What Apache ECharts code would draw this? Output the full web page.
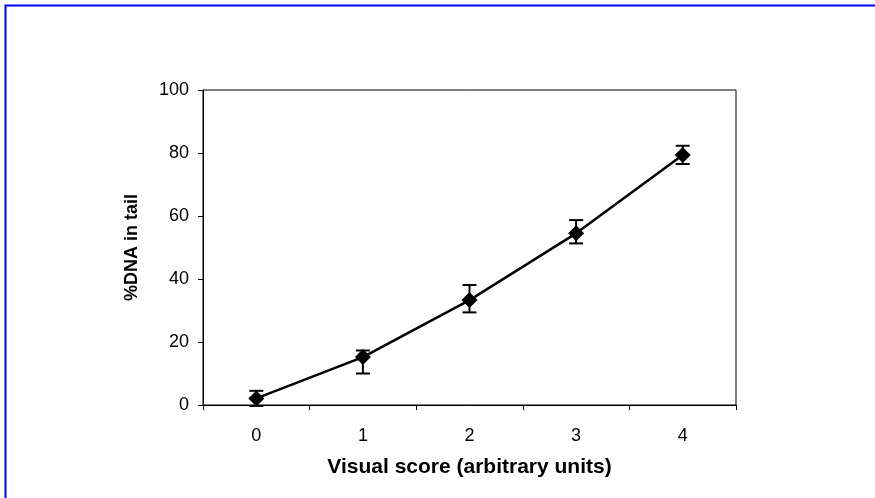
<!DOCTYPE html>
<html>
<head>
<meta charset="utf-8">
<script src="https://cdn.jsdelivr.net/npm/echarts@6/dist/echarts.min.js"></script>
<style>
html,body{margin:0;padding:0;background:#fff;}
#c{width:875px;height:498px;}
</style>
</head>
<body>
<div id="c"></div>
<script>
const categories = ['0', '1', '2', '3', '4'];
const dnaValues = [2.1, 15.2, 33.3, 54.5, 79.4];
const errUpper = [2.4, 2.1, 4.8, 4.2, 2.9];
const errLower = [2.4, 5.2, 3.9, 3.2, 2.9];
const yTicks = [0, 20, 40, 60, 80, 100];

const errData = categories.map((c, i) => [i, dnaValues[i] + errUpper[i], dnaValues[i] - errLower[i]]);

const chart = echarts.init(document.getElementById('c'), null, {renderer: 'canvas'});
const font = '"Liberation Sans", Arial, sans-serif';
chart.setOption({
  animation: false,
  backgroundColor: '#fff',
  graphic: [{
    type: 'rect',
    shape: {x: 5.5, y: 5.5, width: 900, height: 600},
    style: {fill: 'none', stroke: '#0000ff', lineWidth: 2},
    silent: true
  }],
  grid: {left: 203, top: 90, width: 533, height: 315, show: true, borderColor: '#000', borderWidth: 1, backgroundColor: 'transparent'},
  xAxis: {
    type: 'category',
    data: categories,
    boundaryGap: true,
    name: 'Visual score (arbitrary units)',
    nameLocation: 'middle',
    nameGap: 52,
    nameTextStyle: {fontFamily: font, fontWeight: 'bold', fontSize: 21, color: '#000'},
    axisLine: {lineStyle: {color: '#000', width: 1}},
    axisTick: {show: true, alignWithLabel: false, length: 5, inside: false, lineStyle: {color: '#000'}},
    axisLabel: {fontFamily: font, fontSize: 18, color: '#000', margin: 22},
    splitLine: {show: false}
  },
  yAxis: {
    type: 'value',
    min: yTicks[0],
    max: yTicks[yTicks.length - 1],
    interval: 20,
    name: '%DNA in tail',
    nameLocation: 'middle',
    nameGap: 62,
    nameTextStyle: {fontFamily: font, fontWeight: 'bold', fontSize: 18, color: '#000'},
    axisLine: {show: true, lineStyle: {color: '#000', width: 1}},
    axisTick: {show: true, length: 5, lineStyle: {color: '#000'}},
    axisLabel: {fontFamily: font, fontSize: 18, color: '#000', margin: 14},
    splitLine: {show: false}
  },
  series: [
    {
      type: 'custom',
      z: 2,
      data: errData,
      renderItem: function (params, api) {
        const x = api.value(0);
        const top = api.coord([x, api.value(1)]);
        const bot = api.coord([x, api.value(2)]);
        const hw = 7;
        const st = {stroke: '#000', lineWidth: 2};
        return {
          type: 'group',
          children: [
            {type: 'line', shape: {x1: top[0], y1: top[1], x2: bot[0], y2: bot[1]}, style: st},
            {type: 'line', shape: {x1: top[0] - hw, y1: top[1], x2: top[0] + hw, y2: top[1]}, style: st},
            {type: 'line', shape: {x1: bot[0] - hw, y1: bot[1], x2: bot[0] + hw, y2: bot[1]}, style: st}
          ]
        };
      }
    },
    {
      type: 'line',
      z: 3,
      data: dnaValues,
      symbol: 'diamond',
      symbolSize: 16,
      lineStyle: {color: '#000', width: 2.5},
      itemStyle: {color: '#000'}
    }
  ]
});
</script>
</body>
</html>
